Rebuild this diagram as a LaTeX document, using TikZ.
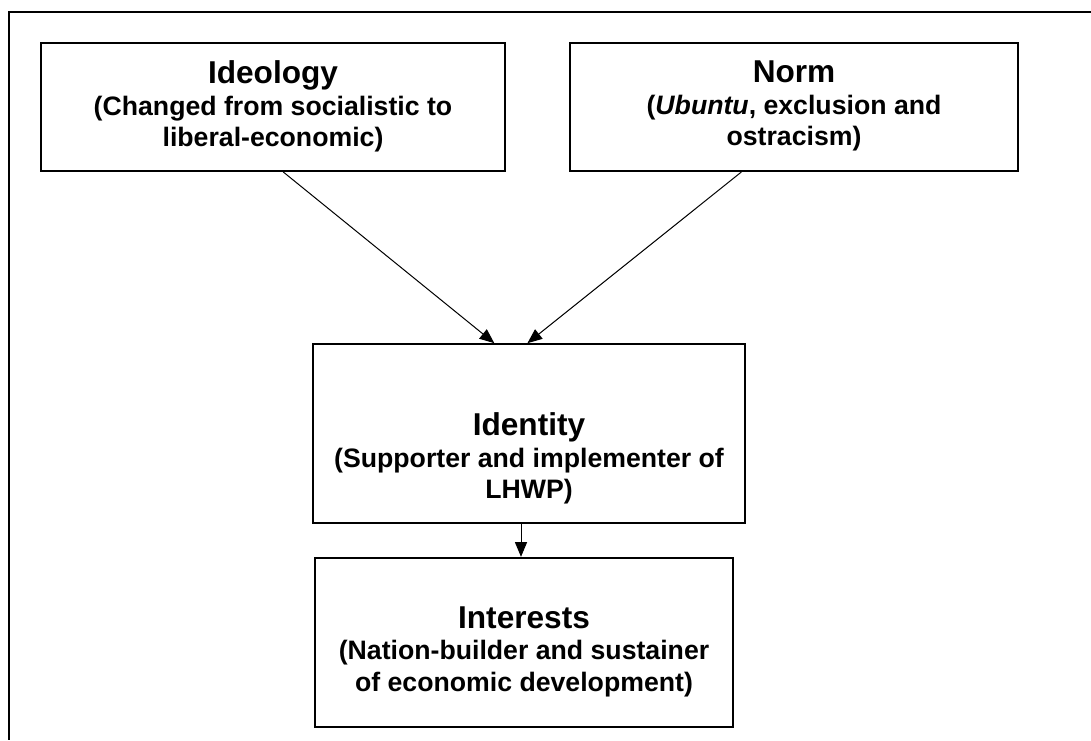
\documentclass[tikz,border=0pt]{standalone}
\usepackage{fontspec}
\setmainfont{Liberation Sans}
\usetikzlibrary{positioning, arrows.meta}
\tikzset{
	>={Triangle[length=11pt, width=9pt]}, % filled arrow heads
	box/.style={draw, line width=1.5pt, inner sep=0pt}, % the framed boxes
	boxtext/.style={align=center, inner sep=0pt, font=\bfseries\fontsize{20}{23.6}\selectfont}, % text inside a box
	link/.style={->, line width=0.75pt}, % the connectors
}
\newcommand{\boxtitle}[1]{{\fontsize{23.7}{26}\selectfont #1}}

\begin{document}
\begin{tikzpicture}[x=0.75pt, y=-0.75pt]
	\useasboundingbox (0,0) rectangle (1091,740);
	% outer frame (only top and left are visible)
	\draw[line width=1.5pt] (1091,12) -- (9,12) -- (9,740);
		\node[box, minimum width=348pt, minimum height=96pt] (ideology) at (273,107) {};
		\node[box, minimum width=336pt, minimum height=96pt] (norm) at (794,107) {};
		\node[box, minimum width=324pt, minimum height=134pt] (identity) at (529,433.5) {};
		\node[box, minimum width=313.5pt, minimum height=127pt] (interests) at (524,642.5) {};
		\node[boxtext, below=14pt of ideology.north] (ideologytext)
			{\boxtitle{Ideology}\\(Changed from socialistic to\\liberal-economic)};
		\node[boxtext, below=14pt of norm.north] (normtext)
			{\boxtitle{Norm}\\(\textit{Ubuntu}, exclusion and\\ostracism)};
		\node[boxtext, below=52pt of identity.north] (identitytext)
			{\boxtitle{Identity}\\(Supporter and implementer of\\LHWP)};
		\node[boxtext, below=37pt of interests.north] (intereststext)
			{\boxtitle{Interests}\\(Nation-builder and sustainer\\of economic development)};
	\draw[link] (ideology.-81) -- (identity.111);
	\draw[link] (norm.-129) -- (identity.91);
	\draw[link] ([xshift=-6pt]identity.south) -- ([xshift=-2.25pt]interests.north);
\end{tikzpicture}
\end{document}
